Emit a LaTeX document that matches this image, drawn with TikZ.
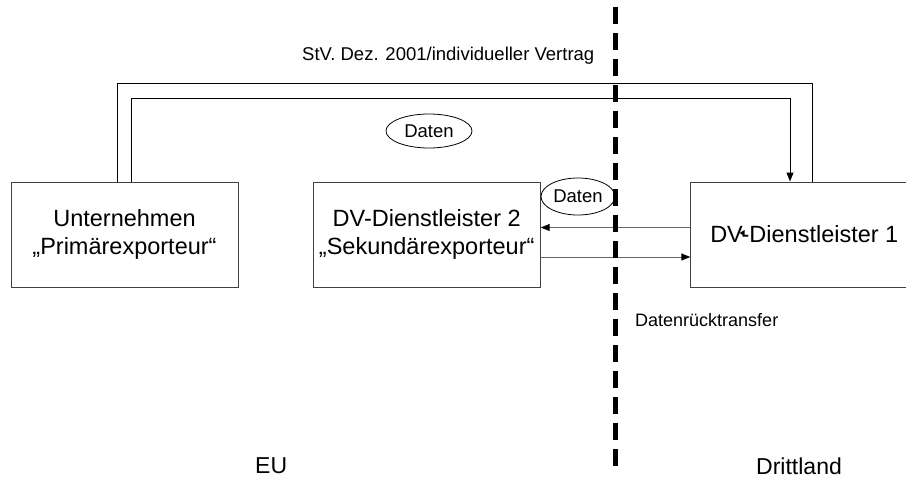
\documentclass[tikz,border=0pt]{standalone}
\usepackage{fontspec}
\setmainfont{Liberation Sans}
\usetikzlibrary{arrows.meta,shapes.geometric}
\begin{document}
\begin{tikzpicture}[x=1pt,y=-1pt,
  box/.style={draw=black!75,line width=1pt,minimum width=227pt,minimum height=105pt,inner sep=0pt,align=center,font=\fontsize{23.5}{27.5}\selectfont},
  lbl/.style={font=\fontsize{18.5}{21}\selectfont,inner sep=0pt,anchor=base west},
  big/.style={font=\fontsize{23}{27}\selectfont,inner sep=0pt,anchor=base west},
  dat/.style={draw,ellipse,line width=0.8pt,fill=white,inner sep=0pt,font=\fontsize{18.5}{21}\selectfont},
  conn/.style={line width=1pt},
  gconn/.style={line width=1pt,draw=black!60},
  tip/.style={-{Triangle[length=9pt,width=7pt,color=black]}},
  divider/.style={line width=5pt,dash pattern=on 17pt off 9pt}]
\useasboundingbox[fill=white] (0,0) rectangle (906,479);

\node[box] (b1) at (124.5,234.5) {Unternehmen\\„Primärexporteur“};
\node[box] (b2) at (426.7,234.5) {DV-Dienstleister 2\\„Sekundärexporteur“};
\node[box] (b3) at (804.3,234.5) {DV-Dienstleister 1};

\node[dat,minimum width=86pt,minimum height=34pt] (d1) at (429,131) {Daten};
\node[dat,minimum width=74pt,minimum height=37pt] (d2) at (578,196.5) {Daten};

\node[lbl] (t1) at (302,60) {StV. Dez. 2001/individueller Vertrag};
\node[lbl,font=\fontsize{18}{21}\selectfont] (t2) at (635,326.5) {Datenrücktransfer};
\node[big] (t3) at (255,473.3) {EU};
\node[big] (t4) at (756,474) {Drittland};

\coordinate (otop) at (812.3,83.3);
\coordinate (itop) at (790,98.7);
\draw[conn] ([xshift=-7.2pt]b1.north) |- (otop) -- ([xshift=8pt]b3.north);
\draw[conn,tip] ([xshift=7.2pt]b1.north) |- (itop) -- ([xshift=-14.3pt]b3.north);

\draw[gconn,tip] ([yshift=7pt]b3.west) -- ([yshift=7pt]b2.east);
\draw[gconn,tip] ([yshift=-22.5pt]b2.east) -- ([yshift=-22.5pt]b3.west);

\fill (739.5,233) -- (744.5,230) -- (744.5,236) -- cycle;

\coordinate (dvtop) at (615,7);
\coordinate (dvbot) at (615,471);
\draw[divider] (dvtop) -- (dvbot);
\end{tikzpicture}
\end{document}
